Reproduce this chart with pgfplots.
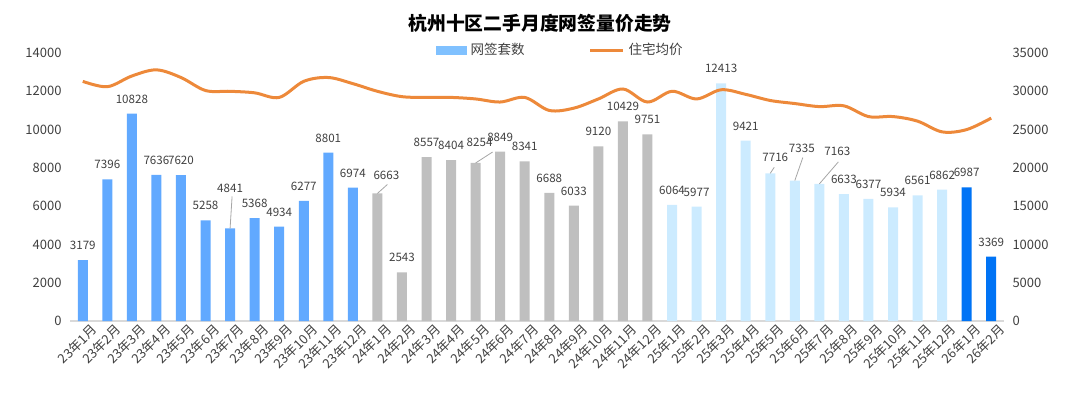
\documentclass[border=0pt]{standalone}
\usepackage{pgfplots}
\pgfplotsset{compat=1.18}
\usepackage{pgfplotstable}
\usepackage{fontspec}
\setmainfont{Noto Sans CJK SC}

\definecolor{cA}{RGB}{97,169,255}
\definecolor{cB}{RGB}{191,191,191}
\definecolor{cC}{RGB}{204,235,255}
\definecolor{cD}{RGB}{0,115,245}
\definecolor{legblue}{RGB}{128,193,255}
\definecolor{orangeline}{RGB}{237,137,58}
\definecolor{axgray}{RGB}{217,217,217}
\definecolor{txt}{RGB}{64,64,64}
\definecolor{leader}{RGB}{166,166,166}

\pgfkeys{/pgf/number format/.cd,1000 sep={},fixed,precision=0}

\pgfplotstableread{
x y dx dy
0 3179 0 0
1 7396 0 0
2 10828 0 0
3 7636 0 0
4 7620 0 0
5 5258 0 0
6 4841 0 12.7
7 5368 0 0
8 4934 0 0
9 6277 0 0
10 8801 0 0
11 6974 0 0
}\tA
\pgfplotstableread{
x y dx dy
12 6663 4.5 1.5
13 2543 0 0
14 8557 0 0
15 8404 0 0
16 8254 2 3
17 8849 0 0
18 8341 0 0
19 6688 0 0
20 6033 0 0
21 9120 0 0
22 10429 0 0
23 9751 0 0
}\tB
\pgfplotstableread{
x y dx dy
24 6064 0 0
25 5977 0 0
26 12413 0 0
27 9421 0 0
28 7716 2.5 0.5
29 7335 3.5 9
30 7163 9 9
31 6633 0 0
32 6377 0 0
33 5934 0 0
34 6561 0 0
35 6862 0 0
}\tC
\pgfplotstableread{
x y dx dy
36 6987 0 0
37 3369 0 0
}\tD
\pgfplotstableread{
x y
0 31300
1 30600
2 32000
3 32800
4 31800
5 30100
6 30000
7 29800
8 29200
9 31300
10 31800
11 31000
12 30000
13 29300
14 29200
15 29200
16 29000
17 28600
18 29200
19 27500
20 27800
21 29000
22 30300
23 28600
24 30000
25 29000
26 30200
27 29600
28 28800
29 28400
30 28000
31 28100
32 26700
33 26700
34 26100
35 24700
36 25000
37 26500
}\tP

\pgfplotsset{
  common/.style={
    scale only axis, width=466.5pt, height=134pt,
    at={(35.25pt,35.5pt)}, anchor=south west,
    xmin=-0.5, xmax=37.5,
    major tick length=0pt,
    tick label style={font=\fontsize{6.5}{8}\selectfont, text=txt},
    /pgf/number format/assume math mode=true,
    scaled y ticks=false,
  },
  lbl/.style={
    nodes near coords,
    visualization depends on={\thisrow{dx} \as \dx},
    visualization depends on={\thisrow{dy} \as \dy},
    nodes near coords style={anchor=center, inner sep=0pt,
      font=\fontsize{5.8}{7}\selectfont, text=txt,
      xshift=\dx pt, yshift=7.3pt+\dy pt},
  },
}

\begin{document}
\begin{tikzpicture}
\useasboundingbox (0,0) rectangle (540pt,196pt);
\node[font=\bfseries\fontsize{9.4}{11}\selectfont, text=black] at (270pt,184.5pt) {杭州十区二手月度网签量价走势};
\begin{axis}[common,
  ymin=0, ymax=14000, ytick={0,2000,...,14000},
  axis x line*=bottom, axis y line*=left,
  x axis line style={draw=axgray, line width=0.75pt, -},
  y axis line style={draw=none},
  yticklabel style={anchor=east, inner sep=0pt, xshift=-4.3pt},
  xtick={0,...,37},
  xticklabels={23年1月,23年2月,23年3月,23年4月,23年5月,23年6月,23年7月,23年8月,23年9月,23年10月,23年11月,23年12月,24年1月,24年2月,24年3月,24年4月,24年5月,24年6月,24年7月,24年8月,24年9月,24年10月,24年11月,24年12月,25年1月,25年2月,25年3月,25年4月,25年5月,25年6月,25年7月,25年8月,25年9月,25年10月,25年11月,25年12月,26年1月,26年2月},
  xticklabel style={rotate=45, anchor=north east, inner sep=0pt, yshift=-3pt, xshift=2pt},
  legend style={draw=none, fill=none, at={(0.526,1.011)}, anchor=center,
    font=\fontsize{6.75}{8}\selectfont, text=txt,
    /tikz/every even column/.append style={column sep=30pt}},
  legend columns=2,
]
\addlegendimage{legend image code/.code={\fill[legblue] (0pt,-2pt) rectangle (15pt,2pt);}}
\addlegendentry{网签套数}
\addlegendimage{legend image code/.code={\draw[orangeline, line width=1.5pt] (0pt,0pt) -- (16.5pt,0pt);}}
\addlegendentry{住宅均价}
\addplot[ybar, bar width=5pt, bar shift=0pt, fill=cA, draw=none, lbl, forget plot] table[x=x,y=y] {\tA};
\addplot[ybar, bar width=5pt, bar shift=0pt, fill=cB, draw=none, lbl, forget plot] table[x=x,y=y] {\tB};
\addplot[ybar, bar width=5pt, bar shift=0pt, fill=cC, draw=none, lbl, forget plot] table[x=x,y=y] {\tC};
\addplot[ybar, bar width=5pt, bar shift=0pt, fill=cD, draw=none, lbl, forget plot] table[x=x,y=y] {\tD};
\draw[leader, line width=0.4pt] (axis cs:6,4841) -- ++(1pt,16pt);
\draw[leader, line width=0.4pt] (axis cs:12,6663) -- ++(5pt,4.5pt);
\draw[leader, line width=0.4pt] (axis cs:16,8254) -- ++(8.5pt,5.5pt);
\draw[leader, line width=0.4pt] (axis cs:28,7716) -- ++(2pt,3pt);
\draw[leader, line width=0.4pt] (axis cs:29,7335) -- ++(4pt,11.5pt);
\draw[leader, line width=0.4pt] (axis cs:30,7163) -- ++(9.5pt,11pt);
\end{axis}
\begin{axis}[common,
  ymin=0, ymax=35000, ytick={0,5000,...,35000},
  axis x line=none, axis y line*=right,
  y axis line style={draw=none},
  yticklabel style={anchor=west, inner sep=0pt, xshift=4.3pt},
]
\addplot[orangeline, line width=1.5pt, smooth, tension=0.55, mark=none] table[x=x,y=y] {\tP};
\end{axis}
\end{tikzpicture}
\end{document}
